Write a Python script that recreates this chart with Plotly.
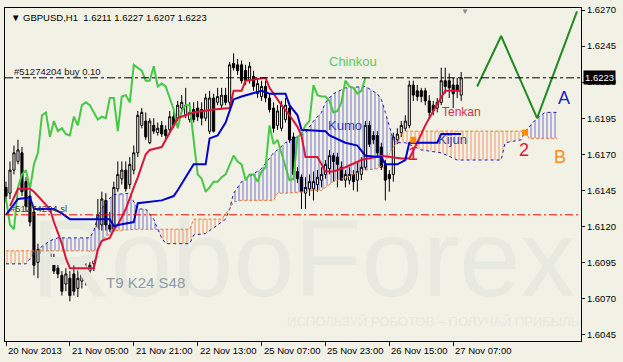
import plotly.graph_objects as go

# ---------------- data ----------------
tick_idx = [0, 16, 32, 48, 64, 80, 96, 112]
tick_labels = ["20 Nov 2013", "21 Nov 05:00", "21 Nov 21:00", "22 Nov 13:00",
               "25 Nov 07:00", "25 Nov 23:00", "26 Nov 15:00", "27 Nov 07:00"]
price_ticks = [1.6045, 1.6070, 1.6095, 1.6120, 1.6145, 1.6170, 1.6195, 1.6220, 1.6245, 1.6270]

bar_open = [
    1.6147, 1.6143, 1.6159, 1.6165, 1.6171, 1.6151, 1.6141, 1.6130, 1.6095, 1.6101,
    1.6104, 1.6101, 1.6097, 1.6091, 1.6086, 1.6080, 1.6084, 1.6087, 1.6077, 1.6082,
    1.6088, 1.6089, 1.6094, 1.6112, 1.6121, 1.6138, 1.6121, 1.6118, 1.6146, 1.6153,
    1.6159, 1.6149, 1.6159, 1.6171, 1.6190, 1.6193, 1.6178, 1.6190, 1.6185, 1.6190,
    1.6187, 1.6187, 1.6196, 1.6195, 1.6202, 1.6197, 1.6194, 1.6201, 1.6202, 1.6201,
    1.6195, 1.6186, 1.6209, 1.6206, 1.6204, 1.6211, 1.6206, 1.6233, 1.6232, 1.6232,
    1.6228, 1.6221, 1.6224, 1.6212, 1.6210, 1.6217, 1.6209, 1.6202, 1.6190, 1.6188,
    1.6194, 1.6202, 1.6182, 1.6158, 1.6154, 1.6143, 1.6146, 1.6146, 1.6149, 1.6152,
    1.6156, 1.6160, 1.6169, 1.6168, 1.6161, 1.6152, 1.6152, 1.6156, 1.6152, 1.6156,
    1.6161, 1.6190, 1.6183, 1.6183, 1.6175, 1.6163, 1.6156, 1.6156, 1.6180, 1.6185,
    1.6188, 1.6190, 1.6218, 1.6214, 1.6214, 1.6214, 1.6207, 1.6204, 1.6202, 1.6206,
    1.6221, 1.6221, 1.6218, 1.6218, 1.6211]
bar_high = [
    1.6151, 1.6165, 1.6176, 1.6180, 1.6175, 1.6154, 1.6145, 1.6134, 1.6108, 1.6110,
    1.6108, 1.6104, 1.6101, 1.6095, 1.6089, 1.6091, 1.6089, 1.6093, 1.6093, 1.6097,
    1.6099, 1.6103, 1.6110, 1.6139, 1.6144, 1.6143, 1.6130, 1.6151, 1.6165, 1.6165,
    1.6165, 1.6168, 1.6176, 1.6200, 1.6202, 1.6199, 1.6195, 1.6195, 1.6192, 1.6193,
    1.6190, 1.6200, 1.6200, 1.6207, 1.6211, 1.6216, 1.6206, 1.6206, 1.6207, 1.6206,
    1.6212, 1.6214, 1.6212, 1.6216, 1.6216, 1.6216, 1.6234, 1.6240, 1.6236, 1.6235,
    1.6232, 1.6234, 1.6228, 1.6223, 1.6221, 1.6221, 1.6212, 1.6206, 1.6204, 1.6207,
    1.6209, 1.6206, 1.6185, 1.6161, 1.6156, 1.6154, 1.6156, 1.6158, 1.6159, 1.6161,
    1.6166, 1.6173, 1.6171, 1.6171, 1.6165, 1.6159, 1.6161, 1.6159, 1.6165, 1.6168,
    1.6193, 1.6193, 1.6186, 1.6186, 1.6178, 1.6166, 1.6159, 1.6185, 1.6188, 1.6193,
    1.6197, 1.6221, 1.6221, 1.6218, 1.6216, 1.6216, 1.6211, 1.6207, 1.6209, 1.6230,
    1.6230, 1.6226, 1.6223, 1.6223, 1.6227]
bar_low = [
    1.6137, 1.6139, 1.6156, 1.6163, 1.6141, 1.6130, 1.6120, 1.6086, 1.6084, 1.6097,
    1.6097, 1.6095, 1.6087, 1.6084, 1.6072, 1.6075, 1.6068, 1.6072, 1.6071, 1.6077,
    1.6079, 1.6080, 1.6089, 1.6099, 1.6117, 1.6117, 1.6116, 1.6116, 1.6144, 1.6149,
    1.6144, 1.6146, 1.6156, 1.6168, 1.6188, 1.6180, 1.6177, 1.6184, 1.6183, 1.6182,
    1.6180, 1.6185, 1.6188, 1.6193, 1.6199, 1.6195, 1.6192, 1.6192, 1.6193, 1.6190,
    1.6193, 1.6184, 1.6185, 1.6204, 1.6202, 1.6204, 1.6204, 1.6228, 1.6225, 1.6219,
    1.6218, 1.6219, 1.6214, 1.6209, 1.6207, 1.6206, 1.6199, 1.6185, 1.6187, 1.6186,
    1.6192, 1.6178, 1.6152, 1.6150, 1.6132, 1.6132, 1.6141, 1.6138, 1.6144, 1.6147,
    1.6153, 1.6156, 1.6151, 1.6147, 1.6152, 1.6147, 1.6149, 1.6145, 1.6144, 1.6152,
    1.6159, 1.6175, 1.6177, 1.6168, 1.6159, 1.6138, 1.6144, 1.6151, 1.6177, 1.6182,
    1.6186, 1.6188, 1.6207, 1.6207, 1.6206, 1.6204, 1.6195, 1.6197, 1.6199, 1.6204,
    1.6212, 1.6209, 1.6202, 1.6209, 1.6207]
bar_close = [
    1.6141, 1.6159, 1.6171, 1.6173, 1.6144, 1.6134, 1.6123, 1.6093, 1.6104, 1.6104,
    1.6101, 1.6097, 1.6089, 1.6087, 1.6075, 1.6087, 1.6072, 1.6075, 1.6084, 1.6089,
    1.6091, 1.6093, 1.6105, 1.6128, 1.6139, 1.6121, 1.6118, 1.6147, 1.6156, 1.6159,
    1.6146, 1.6163, 1.6171, 1.6197, 1.6199, 1.6182, 1.6193, 1.6186, 1.6188, 1.6184,
    1.6183, 1.6196, 1.6190, 1.6204, 1.6206, 1.6204, 1.6199, 1.6194, 1.6196, 1.6195,
    1.6209, 1.6209, 1.6186, 1.6210, 1.6211, 1.6206, 1.6232, 1.6230, 1.6228, 1.6221,
    1.6221, 1.6231, 1.6217, 1.6219, 1.6217, 1.6209, 1.6201, 1.6188, 1.6200, 1.6204,
    1.6204, 1.6180, 1.6156, 1.6153, 1.6144, 1.6147, 1.6151, 1.6151, 1.6154, 1.6156,
    1.6163, 1.6169, 1.6165, 1.6163, 1.6152, 1.6156, 1.6156, 1.6151, 1.6158, 1.6161,
    1.6190, 1.6177, 1.6180, 1.6171, 1.6161, 1.6152, 1.6153, 1.6182, 1.6184, 1.6190,
    1.6193, 1.6218, 1.6211, 1.6210, 1.6210, 1.6207, 1.6199, 1.6200, 1.6206, 1.6221,
    1.6217, 1.6216, 1.6212, 1.6214, 1.6223]

tenkan_idx = [1, 3, 6, 7, 11, 12, 14, 15, 16, 22, 23, 24, 26, 27, 28, 30, 32, 33, 35, 36,
              39, 41, 42, 43, 45, 47, 52, 56, 57, 59, 60, 65, 66, 69, 71, 73, 74, 75, 78, 80,
              82, 85, 89, 94, 99, 101, 103, 105, 107, 109, 110, 114]
tenkan = [1.6134, 1.6146, 1.6146, 1.6144, 1.6132, 1.6123, 1.6108, 1.6098, 1.6091, 1.6091,
          1.6104, 1.6110, 1.6112, 1.6118, 1.6121, 1.6132, 1.6147, 1.6154, 1.6170, 1.6173,
          1.6175, 1.6185, 1.6190, 1.6195, 1.6197, 1.6199, 1.6201, 1.6202, 1.6214, 1.6214,
          1.6221, 1.6223, 1.6216, 1.6204, 1.6197, 1.6189, 1.6183, 1.6168, 1.6168, 1.6158,
          1.6158, 1.6161, 1.6166, 1.6169, 1.6167, 1.6167, 1.6178, 1.6190, 1.6200, 1.6210,
          1.6214, 1.6214]

kijun_idx = [0, 2, 3, 6, 7, 12, 14, 16, 26, 27, 28, 32, 33, 39, 42, 43, 45, 47, 50, 51,
             53, 55, 57, 59, 64, 66, 70, 71, 73, 74, 80, 81, 85, 88, 90, 94, 95, 98, 100, 101,
             108, 109, 114]
kijun = [1.6128, 1.6135, 1.6139, 1.6140, 1.6132, 1.6132, 1.6129, 1.6125, 1.6125, 1.6120,
         1.6121, 1.6123, 1.6136, 1.6138, 1.6141, 1.6145, 1.6154, 1.6163, 1.6163, 1.6181,
         1.6183, 1.6192, 1.6208, 1.6210, 1.6214, 1.6212, 1.6212, 1.6204, 1.6197, 1.6187,
         1.6186, 1.6183, 1.6178, 1.6176, 1.6169, 1.6168, 1.6163, 1.6163, 1.6166, 1.6178,
         1.6178, 1.6184, 1.6184]

span_idx = [0, 5, 7, 8, 11, 13, 21, 22, 23, 24, 25, 27, 31, 32, 33, 35, 37, 38, 39, 40,
            46, 47, 50, 52, 54, 55, 56, 57, 59, 64, 67, 68, 70, 75, 77, 79, 80, 82, 85, 90,
            93, 94, 95, 96, 97, 98, 99, 100, 104, 109, 113, 124, 125, 129, 130, 131, 133, 135, 138]
span_a = [1.6094, 1.6094, 1.6101, 1.6104, 1.6110, 1.6112, 1.6112, 1.6117, 1.6127, 1.6132,
          1.6137, 1.6142, 1.6143, 1.6137, 1.6132, 1.6132, 1.6125, 1.6118, 1.6112, 1.6108,
          1.6108, 1.6114, 1.6115, 1.6119, 1.6123, 1.6125, 1.6132, 1.6143, 1.6151, 1.6160,
          1.6171, 1.6173, 1.6178, 1.6185, 1.6193, 1.6199, 1.6206, 1.6212, 1.6216, 1.6217,
          1.6212, 1.6208, 1.6199, 1.6189, 1.6180, 1.6178, 1.6178, 1.6178, 1.6173, 1.6171,
          1.6166, 1.6166, 1.6178, 1.6180, 1.6186, 1.6189, 1.6195, 1.6199, 1.6199]
span_b = [1.6103, 1.6103, 1.6103, 1.6103, 1.6103, 1.6103, 1.6103, 1.6103, 1.6103, 1.6110,
          1.6113, 1.6117, 1.6118, 1.6118, 1.6118, 1.6118, 1.6118, 1.6118, 1.6118, 1.6118,
          1.6118, 1.6125, 1.6125, 1.6125, 1.6125, 1.6129, 1.6132, 1.6137, 1.6138, 1.6138,
          1.6138, 1.6143, 1.6143, 1.6144, 1.6145, 1.6145, 1.6147, 1.6151, 1.6154, 1.6159,
          1.6160, 1.6162, 1.6166, 1.6170, 1.6175, 1.6178, 1.6184, 1.6186, 1.6186, 1.6186,
          1.6186, 1.6186, 1.6186, 1.6186, 1.6186, 1.6181, 1.6181, 1.6181, 1.6181]

chinkou_shift = 24

forecast_idx = [118, 124, 133, 143]
forecast_price = [1.6217, 1.6252, 1.6195, 1.6269]

signal_idx = [102, 130]
signal_price = [1.6180, 1.6185]

buy_price = 1.6223
sl_price = 1.6128
last_price = 1.6223

header_text = "▼ GBPUSD,H1\u00a0\u00a01.6211 1.6227 1.6207 1.6223"

# ---------------- figure ----------------
assert len(bar_open) == len(bar_high) == len(bar_low) == len(bar_close)
n = len(bar_close)
bar_idx = list(range(n))
chinkou_idx = [i - chinkou_shift for i in range(chinkou_shift, n)]
chinkou = bar_close[chinkou_shift:]
span_top = [max(a, b) for a, b in zip(span_a, span_b)]

BG = "#F2F1E6"
FONT = "Liberation Sans, Arial, sans-serif"

fig = go.Figure()

# watermark (behind everything)
fig.add_trace(go.Scatter(x=[74.5], y=[1.6091], mode="text", text=["RoboForex"],
                         textfont=dict(family=FONT, size=110, color="#E8E9DF"),
                         hoverinfo="skip", showlegend=False))
fig.add_trace(go.Scatter(x=[107], y=[1.6053], mode="text",
                         text=["ИСПОЛЬЗУЙ РОБОТОВ – ПОЛУЧАЙ ПРИБЫЛЬ"],
                         textfont=dict(family=FONT, size=13, color="#E7E8DE"),
                         hoverinfo="skip", showlegend=False))

# cloud: blue where A above B
fig.add_trace(go.Scatter(x=span_idx, y=span_b, mode="lines",
                         line=dict(width=0, color="rgba(0,0,0,0)"),
                         hoverinfo="skip", showlegend=False))
fig.add_trace(go.Scatter(x=span_idx, y=span_top, mode="lines", fill="tonexty",
                         fillcolor="rgba(0,0,0,0)",
                         fillpattern=dict(shape="|", size=4, solidity=0.25,
                                          fgcolor="#1C1CB8", fgopacity=0.6,
                                          bgcolor="rgba(0,0,0,0)"),
                         line=dict(width=0, color="rgba(0,0,0,0)"),
                         hoverinfo="skip", showlegend=False))
# cloud: orange where B above A
fig.add_trace(go.Scatter(x=span_idx, y=span_a, mode="lines",
                         line=dict(width=0, color="rgba(0,0,0,0)"),
                         hoverinfo="skip", showlegend=False))
fig.add_trace(go.Scatter(x=span_idx, y=span_top, mode="lines", fill="tonexty",
                         fillcolor="rgba(0,0,0,0)",
                         fillpattern=dict(shape="|", size=4, solidity=0.25,
                                          fgcolor="#F07A40", fgopacity=0.75,
                                          bgcolor="rgba(0,0,0,0)"),
                         line=dict(width=0, color="rgba(0,0,0,0)"),
                         hoverinfo="skip", showlegend=False))
# span boundary lines
fig.add_trace(go.Scatter(x=span_idx, y=span_a, mode="lines",
                         line=dict(width=1, color="#1C1CB8", dash="dot"),
                         hoverinfo="skip", showlegend=False))
fig.add_trace(go.Scatter(x=span_idx, y=span_b, mode="lines",
                         line=dict(width=1, color="#F27830", dash="3px,2px"),
                         hoverinfo="skip", showlegend=False))

# candles
fig.add_trace(go.Candlestick(
    x=bar_idx, open=bar_open, high=bar_high, low=bar_low, close=bar_close,
    increasing=dict(line=dict(color="black", width=1), fillcolor="white"),
    decreasing=dict(line=dict(color="black", width=1), fillcolor="black"),
    whiskerwidth=0, hoverinfo="skip", showlegend=False))

# ichimoku lines
fig.add_trace(go.Scatter(x=chinkou_idx, y=chinkou, mode="lines",
                         line=dict(width=2, color="#46C846"),
                         hoverinfo="skip", showlegend=False))
fig.add_trace(go.Scatter(x=tenkan_idx, y=tenkan, mode="lines",
                         line=dict(width=2, color="#DC143C"),
                         hoverinfo="skip", showlegend=False))
fig.add_trace(go.Scatter(x=kijun_idx, y=kijun, mode="lines",
                         line=dict(width=2, color="#0000CD"),
                         hoverinfo="skip", showlegend=False))

# forecast zigzag
fig.add_trace(go.Scatter(x=forecast_idx, y=forecast_price, mode="lines",
                         line=dict(width=2, color="#218A21"),
                         hoverinfo="skip", showlegend=False))
# signal markers
fig.add_trace(go.Scatter(x=signal_idx, y=signal_price, mode="markers",
                         marker=dict(symbol="square", size=6, color="#FF8C00"),
                         hoverinfo="skip", showlegend=False))

# horizontal order lines
fig.add_shape(type="line", xref="paper", x0=0, x1=1, yref="y", y0=buy_price, y1=buy_price,
              line=dict(color="black", width=1, dash="8px,3px,3px,3px"), layer="above")
fig.add_shape(type="line", xref="paper", x0=0, x1=1, yref="y", y0=sl_price, y1=sl_price,
              line=dict(color="#FF0000", width=1, dash="8px,3px,2px,3px"), layer="above")

ann = []
# x-axis labels (left aligned at ticks, MT4 style)
for ti, tl in zip(tick_idx, tick_labels):
    ann.append(dict(x=ti, xref="x", y=0, yref="paper", text=tl, showarrow=False,
                    xanchor="left", yanchor="top", xshift=0, yshift=-2,
                    font=dict(family=FONT, size=9.5, color="black")))
# current price box
ann.append(dict(x=1, xref="paper", y=last_price, yref="y", text=f"{last_price:.4f}",
                showarrow=False, xanchor="left", yanchor="middle", xshift=2,
                bgcolor="black", borderpad=1,
                font=dict(family=FONT, size=9.5, color="white")))
# header & order labels
ann.append(dict(x=0, xref="paper", y=1, yref="paper", text=header_text, showarrow=False,
                xanchor="left", yanchor="top", xshift=4, yshift=-2,
                font=dict(family=FONT, size=9.5, color="black")))
ann.append(dict(x=0, xref="paper", y=buy_price, yref="y", text="#51274204 buy 0.10",
                showarrow=False, xanchor="left", yanchor="bottom", xshift=7, yshift=-1,
                font=dict(family=FONT, size=9.5, color="#202020")))
ann.append(dict(x=0, xref="paper", y=sl_price, yref="y", text="#51274204 sl",
                showarrow=False, xanchor="left", yanchor="bottom", xshift=3, yshift=-1,
                font=dict(family=FONT, size=9.5, color="#404040")))
# indicator labels
labels = [
    ("Chinkou", 87, 1.6234, "#5CC85C", 13),
    ("Tenkan", 114, 1.6199, "#D0304A", 12),
    ("Kumo", 85, 1.6190, "#3A3AB8", 13),
    ("Kijun", 111.7, 1.6180, "#3C3CA0", 13),
    ("1", 102, 1.6170, "#DC143C", 18),
    ("2", 129.8, 1.6173, "#DC143C", 18),
    ("A", 139.8, 1.6209, "#1E1EC0", 18),
    ("B", 138.8, 1.6168, "#FF8C1A", 18),
    ("T9 K24 S48", 35, 1.6081, "#8C9AAA", 15),
]
for t, lx, ly, c, s in labels:
    ann.append(dict(x=lx, y=ly, xref="x", yref="y", text=t, showarrow=False,
                    xanchor="center", yanchor="middle",
                    font=dict(family=FONT, size=s, color=c)))
# chart shift marker
ann.append(dict(x=115, xref="x", y=1, yref="paper", text="▼", showarrow=False,
                xanchor="center", yanchor="top", yshift=3,
                font=dict(family=FONT, size=8, color="#8A8A8A")))

fig.update_layout(
    width=623, height=362,
    margin=dict(l=4, r=42, t=4, b=21),
    paper_bgcolor=BG, plot_bgcolor=BG,
    showlegend=False,
    annotations=ann,
    hovermode=False,
    xaxis=dict(range=[-0.25, 144], showgrid=False, zeroline=False,
               showline=True, linecolor="black", linewidth=1, mirror=True,
               ticks="outside", ticklen=4, tickcolor="black",
               tickvals=tick_idx, showticklabels=False,
               rangeslider=dict(visible=False), fixedrange=True),
    yaxis=dict(range=[1.60405, 1.62714], side="right", showgrid=False, zeroline=False,
               showline=True, linecolor="black", linewidth=1, mirror=True,
               ticks="outside", ticklen=3, tickcolor="black",
               tickvals=price_ticks, ticktext=[f"{v:.4f}" for v in price_ticks],
               tickfont=dict(family=FONT, size=9.5, color="black"), fixedrange=True),
    boxgap=0.25,
)

fig.write_html("out.html")
